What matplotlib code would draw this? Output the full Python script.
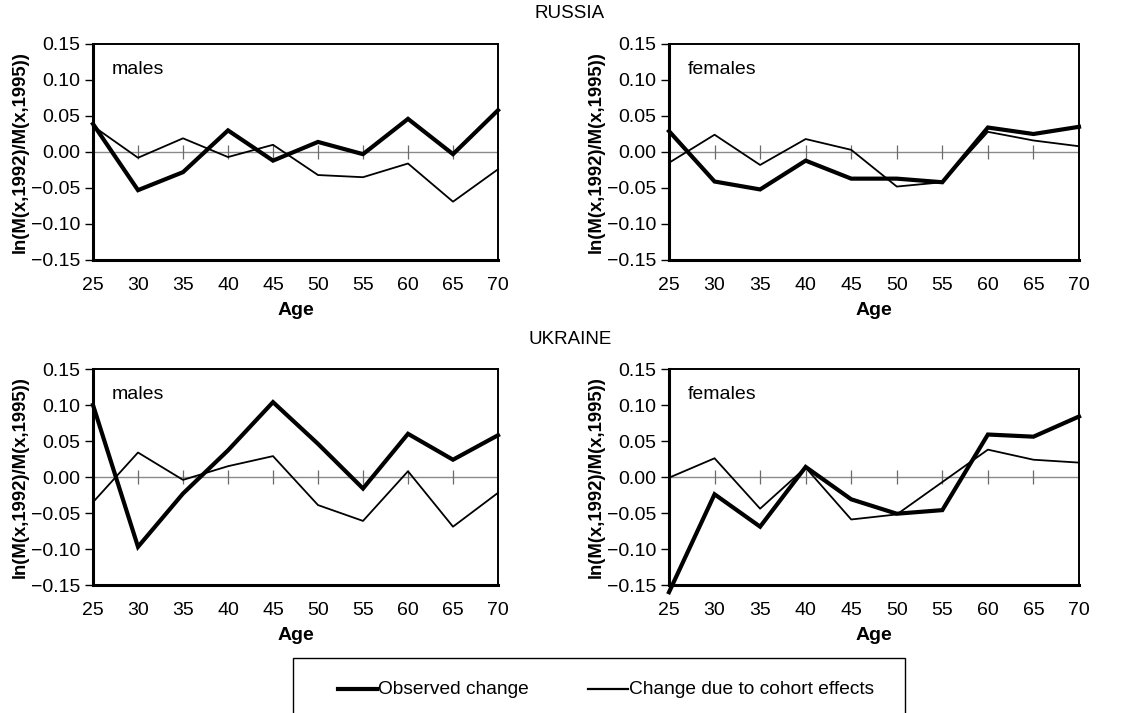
import matplotlib
matplotlib.use("Agg")
import matplotlib.pyplot as plt
from matplotlib.lines import Line2D
from matplotlib.patches import Rectangle

plt.rcParams['font.family'] = ['Liberation Sans', 'DejaVu Sans']

ages = [25, 30, 35, 40, 45, 50, 55, 60, 65, 70]

russia_males_observed = [0.039, -0.053, -0.028, 0.030, -0.012, 0.014, -0.003, 0.046, -0.003, 0.058]
russia_males_cohort = [0.036, -0.008, 0.019, -0.007, 0.010, -0.032, -0.035, -0.016, -0.069, -0.024]

russia_females_observed = [0.029, -0.041, -0.052, -0.012, -0.037, -0.037, -0.042, 0.034, 0.025, 0.035]
russia_females_cohort = [-0.015, 0.024, -0.018, 0.018, 0.003, -0.048, -0.042, 0.028, 0.016, 0.008]

ukraine_males_observed = [0.100, -0.097, -0.023, 0.037, 0.104, 0.046, -0.016, 0.060, 0.024, 0.058]
ukraine_males_cohort = [-0.035, 0.034, -0.004, 0.015, 0.029, -0.039, -0.061, 0.008, -0.069, -0.022]

ukraine_females_observed = [-0.160, -0.024, -0.069, 0.014, -0.031, -0.051, -0.046, 0.059, 0.056, 0.084]
ukraine_females_cohort = [-0.001, 0.026, -0.044, 0.013, -0.059, -0.052, -0.007, 0.038, 0.024, 0.020]

yticks = [-0.15, -0.10, -0.05, 0.00, 0.05, 0.10, 0.15]
ytick_labels = ['\u22120.15', '\u22120.10', '\u22120.05', '0.00', '0.05', '0.10', '0.15']
ylabel = "ln(M(x,1992)/M(x,1995))"

W, H = 1141, 713
fig = plt.figure(figsize=(W / 100, H / 100), dpi=100)


def px_axes(left, top, right, bottom):
    return fig.add_axes([left / W, 1 - bottom / H, (right - left) / W, (bottom - top) / H])


def draw_panel(ax, observed, cohort, sex):
    ax.set_xlim(ages[0], ages[-1])
    ax.set_ylim(-0.15, 0.15)
    # zero reference line with category tick marks
    ax.axhline(0, color='#8a8a8a', lw=1.0, zorder=1)
    ax.plot(ages[1:-1], [0] * (len(ages) - 2), ls='none', marker='|',
            ms=10, mew=0.9, color='#6a6a6a', zorder=1)
    ax.plot(ages, cohort, color='black', lw=1.3, zorder=3, clip_on=False)
    ax.plot(ages, observed, color='black', lw=3.0, zorder=4, clip_on=False,
            solid_joinstyle='miter')
    ax.set_xticks(ages)
    ax.set_xticklabels([str(a) for a in ages])
    ax.set_yticks(yticks)
    ax.set_yticklabels(ytick_labels)
    ax.tick_params(axis='x', length=0, pad=12, labelsize=14)
    ax.tick_params(axis='y', length=6, width=1.0, direction='out', pad=3, labelsize=14)
    for side in ['left', 'bottom']:
        ax.spines[side].set_linewidth(2.2)
    for side in ['top', 'right']:
        ax.spines[side].set_linewidth(1.4)
    ax.set_xlabel('Age', fontsize=14, fontweight='bold', labelpad=6)
    ax.set_ylabel(ylabel, fontsize=13.3, fontweight='bold', labelpad=2)
    ax.text(0.045, 0.88, sex, transform=ax.transAxes, fontsize=14, va='center', ha='left')


ax1 = px_axes(93, 44, 498, 260)
ax2 = px_axes(669, 44, 1079, 260)
ax3 = px_axes(93, 369, 498, 585)
ax4 = px_axes(669, 369, 1079, 585)

draw_panel(ax1, russia_males_observed, russia_males_cohort, 'males')
draw_panel(ax2, russia_females_observed, russia_females_cohort, 'females')
draw_panel(ax3, ukraine_males_observed, ukraine_males_cohort, 'males')
draw_panel(ax4, ukraine_females_observed, ukraine_females_cohort, 'females')

fig.text(570 / W, 1 - 14 / H, 'RUSSIA', ha='center', va='center', fontsize=13.5)
fig.text(570 / W, 1 - 340 / H, 'UKRAINE', ha='center', va='center', fontsize=13.5)

# legend box
fig.patches.append(Rectangle((293 / W, -0.05), (905 - 293) / W, 0.05 + (1 - 658 / H),
                             transform=fig.transFigure, fill=False, edgecolor='black',
                             lw=1.0, clip_on=False))
fig.lines.append(Line2D([338 / W, 377 / W], [1 - 689 / H] * 2, transform=fig.transFigure,
                        color='black', lw=3.0))
fig.text(378 / W, 1 - 689 / H, 'Observed change', ha='left', va='center', fontsize=13.8)
fig.lines.append(Line2D([588 / W, 628 / W], [1 - 689 / H] * 2, transform=fig.transFigure,
                        color='black', lw=1.6))
fig.text(629 / W, 1 - 689 / H, 'Change due to cohort effects', ha='left', va='center', fontsize=13.8)

fig.savefig('out.png', dpi=100)
